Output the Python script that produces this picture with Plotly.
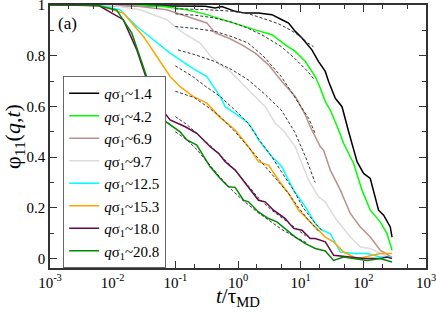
import plotly.graph_objects as go

# ---- data (t in units of tau_MD, phi_11) ----
labels = ["1.4", "4.2", "6.9", "9.7", "12.5", "15.3", "18.0", "20.8"]
colors = ["#000000", "#00ff00", "#bc8f8f", "#dcdcdc", "#00ffff", "#ffa500", "#670748", "#008b00"]

t_14 = [0.001, 0.1, 0.3, 0.432, 0.552, 0.902, 1.303, 2.12, 3.48, 5.02, 6.41, 8.2, 10.5, 15.1, 19.3, 24.7, 27.9, 35.7, 45.7, 58.3, 79.4, 101, 129, 175, 211, 269, 287]
p_14 = [1.0, 0.998, 0.995, 0.988, 0.994, 0.975, 0.968, 0.968, 0.962, 0.942, 0.929, 0.896, 0.870, 0.823, 0.777, 0.738, 0.698, 0.632, 0.599, 0.50, 0.382, 0.336, 0.316, 0.191, 0.171, 0.125, 0.085]

t_42 = [0.001, 0.02, 0.0646, 0.153, 0.318, 0.52, 0.902, 1.884, 3.48, 5.68, 8.2, 11.9, 17.1, 20.6, 24.7, 29.7, 40.3, 48.4, 70, 95.3, 129, 186, 239, 287]
p_42 = [1.0, 0.999, 0.994, 0.981, 0.962, 0.945, 0.929, 0.902, 0.883, 0.843, 0.817, 0.777, 0.718, 0.672, 0.619, 0.586, 0.507, 0.455, 0.375, 0.27, 0.191, 0.145, 0.099, 0.033]

t_69 = [0.001, 0.02, 0.0731, 0.153, 0.318, 0.432, 0.705, 1.153, 1.884, 3.07, 5.02, 8.2, 11.9, 14.2, 20.6, 23.2, 29.7, 43, 61.9, 89.5, 129, 186, 287]
p_69 = [1.0, 0.998, 0.981, 0.955, 0.929, 0.89, 0.870, 0.843, 0.81, 0.764, 0.698, 0.639, 0.566, 0.52, 0.441, 0.428, 0.349, 0.27, 0.178, 0.125, 0.085, 0.033, 0.005]

t_97 = [0.001, 0.01, 0.0274, 0.0731, 0.135, 0.249, 0.36, 0.52, 0.705, 1.153, 1.884, 2.72, 3.93, 5.5, 8.2, 10.5, 13.4, 19.3, 24.7, 29.7, 38, 61.9, 89.5, 129, 186, 287]
p_97 = [1.0, 0.998, 0.981, 0.942, 0.889, 0.85, 0.80, 0.764, 0.745, 0.692, 0.639, 0.599, 0.534, 0.50, 0.441, 0.375, 0.309, 0.243, 0.224, 0.191, 0.151, 0.085, 0.046, 0.04, 0.02, 0.0]

t_125 = [0.001, 0.006, 0.0131, 0.0243, 0.0447, 0.0826, 0.172, 0.318, 0.52, 0.625, 0.902, 1.472, 1.884, 2.12, 3.48, 5.02, 7.71, 11.9, 17.1, 21.9, 29.7, 43, 70, 115, 186, 287]
p_125 = [1.0, 0.999, 0.981, 0.915, 0.863, 0.81, 0.757, 0.718, 0.639, 0.599, 0.573, 0.534, 0.494, 0.468, 0.402, 0.362, 0.27, 0.204, 0.138, 0.112, 0.099, 0.026, 0.02, 0.02, 0.006, 0.006]

t_153 = [0.001, 0.006, 0.0148, 0.0309, 0.0506, 0.0826, 0.119, 0.195, 0.318, 0.52, 0.902, 1.472, 2.12, 3.07, 4.44, 6.41, 9.27, 13.4, 19.3, 24.7, 33.6, 48.4, 79.4, 129, 186, 287]
p_153 = [1.0, 0.998, 0.968, 0.876, 0.797, 0.718, 0.678, 0.639, 0.613, 0.556, 0.507, 0.441, 0.382, 0.369, 0.309, 0.257, 0.191, 0.151, 0.112, 0.085, 0.066, 0.026, 0.0, 0.013, 0.02, 0.02]

t_180 = [0.001, 0.006, 0.0148, 0.0243, 0.0351, 0.0506, 0.0826, 0.144, 0.22, 0.36, 0.489, 0.625, 0.902, 1.472, 2.12, 2.72, 3.69, 5.68, 7.71, 10.5, 14.2, 17.1, 24.7, 33.6, 55, 101, 186, 239, 287]
p_180 = [1.0, 0.998, 0.942, 0.823, 0.705, 0.613, 0.547, 0.52, 0.494, 0.441, 0.415, 0.382, 0.349, 0.283, 0.23, 0.224, 0.191, 0.158, 0.119, 0.112, 0.079, 0.079, 0.066, 0.013, 0.006, 0.0, 0.0, 0.006, 0.0]

t_208 = [0.001, 0.003, 0.006, 0.0116, 0.0202, 0.0309, 0.0447, 0.0646, 0.119, 0.153, 0.22, 0.36, 0.52, 0.705, 0.902, 1.225, 1.472, 2.12, 3.07, 4.18, 6.04, 8.2, 11.9, 17.1, 24.7, 33.6, 48.4, 70, 115, 186, 287]
p_208 = [1.0, 1.0, 0.997, 0.98, 0.889, 0.757, 0.639, 0.547, 0.50, 0.468, 0.448, 0.362, 0.316, 0.283, 0.281, 0.23, 0.224, 0.184, 0.158, 0.145, 0.112, 0.085, 0.059, 0.04, 0.03, -0.007, 0.006, 0.0, -0.007, 0.0, -0.013]

# dashed fits
ft_14 = [0.1, 0.3, 0.84, 1.5, 2.9, 4.5, 6.8, 10, 13, 16]
fp_14 = [0.985, 0.982, 0.975, 0.965, 0.942, 0.925, 0.902, 0.875, 0.85, 0.836]
ft_42 = [0.1, 0.2, 0.4, 0.8, 1.4, 2.5, 4.9, 8, 13, 16]
fp_42 = [0.965, 0.96, 0.95, 0.932, 0.91, 0.88, 0.836, 0.79, 0.738, 0.71]
ft_69 = [0.1, 0.2, 0.43, 0.8, 1.45, 2.5, 4.9, 8, 13.4, 17]
fp_69 = [0.915, 0.908, 0.896, 0.875, 0.85, 0.80, 0.718, 0.64, 0.553, 0.494]
ft_97 = [0.11, 0.2, 0.43, 0.8, 1.45, 2.5, 4.9, 8, 12, 17]
fp_97 = [0.823, 0.805, 0.777, 0.745, 0.705, 0.655, 0.586, 0.50, 0.40, 0.30]
ft_125 = [0.1, 0.19, 0.3, 0.52, 0.9, 1.45, 2.3, 3.5, 5, 7.7, 11, 17, 22]
fp_125 = [0.76, 0.718, 0.68, 0.639, 0.585, 0.534, 0.46, 0.40, 0.34, 0.27, 0.20, 0.14, 0.11]
ft_153 = [0.1, 0.2, 0.32, 0.52, 0.9, 1.45, 2.2, 3.0, 4.5, 6.4, 9.3, 13.4, 19]
fp_153 = [0.66, 0.635, 0.60, 0.56, 0.50, 0.441, 0.39, 0.35, 0.30, 0.257, 0.20, 0.151, 0.11]
ft_180 = [0.1, 0.15, 0.22, 0.35, 0.49, 0.9, 1.4, 2.1, 3.5, 5.7, 8, 12]
fp_180 = [0.56, 0.53, 0.494, 0.45, 0.415, 0.349, 0.29, 0.24, 0.19, 0.15, 0.12, 0.09]
ft_208 = [0.1, 0.15, 0.22, 0.35, 0.52, 0.8, 1.2, 2.0, 3.0, 5, 8.2, 13]
fp_208 = [0.50, 0.47, 0.43, 0.37, 0.32, 0.27, 0.23, 0.185, 0.155, 0.115, 0.085, 0.06]

series = [(t_14, p_14), (t_42, p_42), (t_69, p_69), (t_97, p_97),
          (t_125, p_125), (t_153, p_153), (t_180, p_180), (t_208, p_208)]
fits = [(ft_14, fp_14), (ft_42, fp_42), (ft_69, fp_69), (ft_97, fp_97),
        (ft_125, fp_125), (ft_153, fp_153), (ft_180, fp_180), (ft_208, fp_208)]

FONT = "Liberation Serif"
AX = "#333333"

fig = go.Figure()
for (t, p), lab, col in zip(series, labels, colors):
    fig.add_trace(go.Scatter(x=t, y=p, mode="lines", line=dict(color=col, width=1.5),
                             name="<i>q</i>σ<sub>1</sub>~" + lab))
for (t, p) in fits:
    fig.add_trace(go.Scatter(x=t, y=p, mode="lines", line=dict(color=AX, width=1, dash="3px,2px"),
                             showlegend=False, hoverinfo="skip"))

xt = [1e-3, 1e-2, 1e-1, 1, 10, 100, 1000]
xtt = ["10<sup>-3</sup>", "10<sup>-2</sup>", "10<sup>-1</sup>", "10<sup>0</sup>", "10<sup>1</sup>", "10<sup>2</sup>", "10<sup>3</sup>"]

fig.update_layout(
    width=436, height=312,
    margin=dict(l=50, r=10, t=5, b=44),
    paper_bgcolor="white", plot_bgcolor="white",
    font=dict(family=FONT, size=15, color="black"),
    showlegend=True,
    legend=dict(x=0.035, y=0.73, xanchor="left", yanchor="top",
                bordercolor="#666666", borderwidth=1, bgcolor="white",
                font=dict(family=FONT, size=15), itemwidth=30, tracegroupgap=0),
    xaxis=dict(type="log", range=[-3, 3], tickvals=xt, ticktext=xtt, automargin=False,
               ticks="inside", ticklen=7, tickcolor=AX, showline=True, linecolor=AX, linewidth=1.5,
               mirror="allticks", showgrid=False, zeroline=False, ticklabeloverflow="allow",
               minor=dict(ticks="inside", ticklen=4, tickcolor=AX, showgrid=False),
               tickfont=dict(family=FONT, size=15)),
    yaxis=dict(range=[-0.037, 1.0], tickvals=[0, 0.2, 0.4, 0.6, 0.8, 1.0], ticktext=["0", "0.2", "0.4", "0.6", "0.8", "1"],
               automargin=False, ticklabeloverflow="allow",
               ticks="inside", ticklen=7, tickcolor=AX, showline=True, linecolor=AX, linewidth=1.5,
               mirror="allticks", showgrid=False, zeroline=False,
               minor=dict(ticks="inside", ticklen=4, dtick=0.1, tickcolor=AX, showgrid=False),
               tickfont=dict(family=FONT, size=15),
               title=dict(text="φ<sub>11</sub>(<i>q</i>,<i>t</i>)", font=dict(family=FONT, size=22), standoff=5)),
    annotations=[
        dict(text="(a)", x=0.015, y=0.975, xref="paper", yref="paper", xanchor="left", yanchor="top",
             showarrow=False, font=dict(family=FONT, size=17)),
        dict(text="<i>t</i>/τ<sub>MD</sub>", x=0.5, y=-0.055, xref="paper", yref="paper", xanchor="center", yanchor="top",
             showarrow=False, font=dict(family=FONT, size=21)),
    ],
)

fig.write_html("out.html", config={"displayModeBar": False},
               post_script="document.body.style.margin='0';")
